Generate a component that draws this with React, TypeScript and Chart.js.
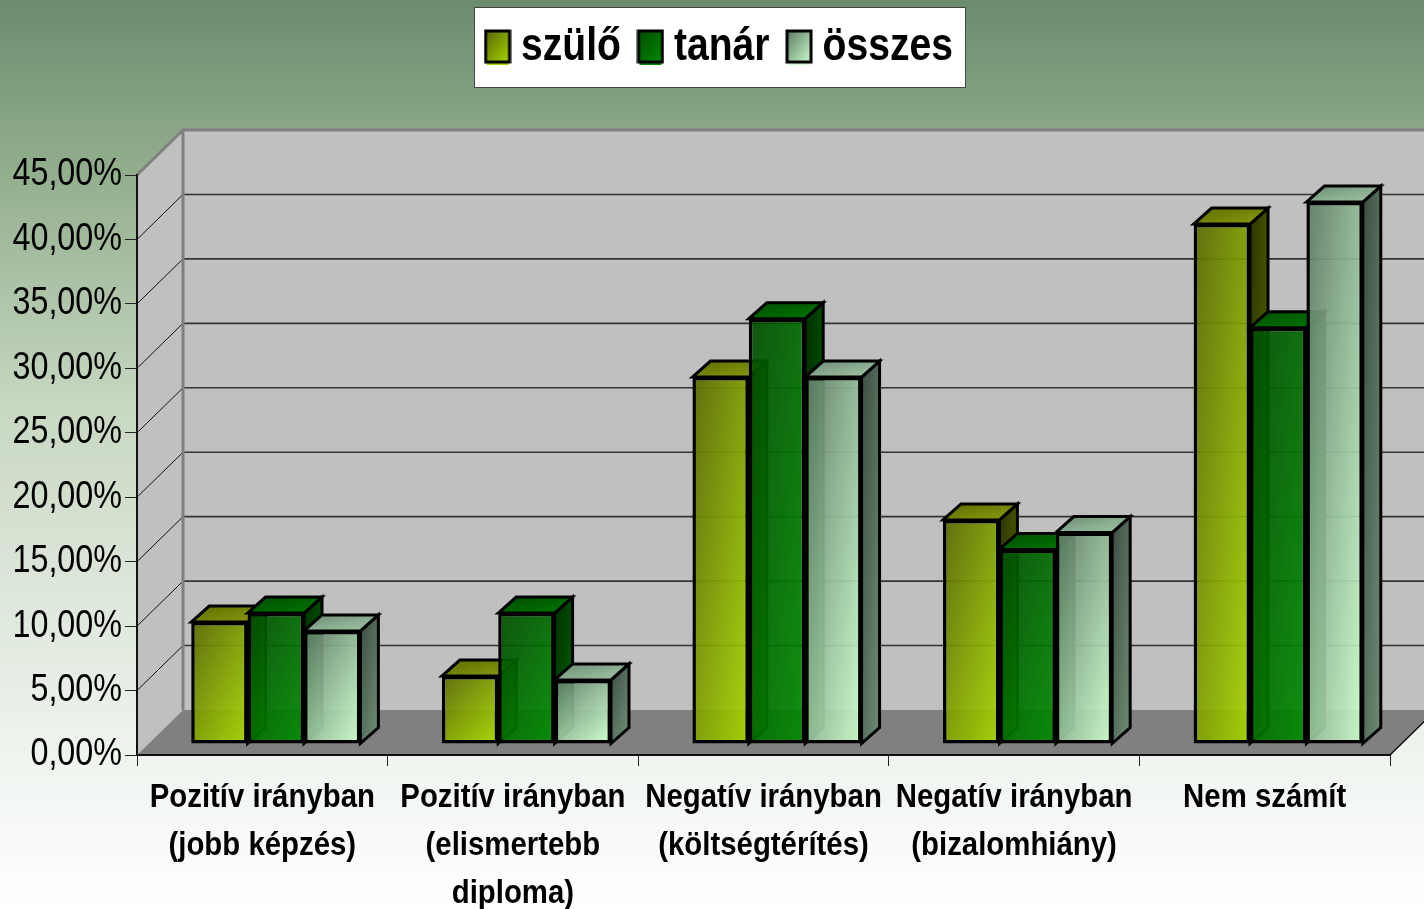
import React, { useEffect, useRef } from "react";
import { Chart, registerables } from "chart.js";

Chart.register(...registerables);

const categories = [
  ["Pozitív irányban", "(jobb képzés)"],
  ["Pozitív irányban", "(elismertebb", "diploma)"],
  ["Negatív irányban", "(költségtérítés)"],
  ["Negatív irányban", "(bizalomhiány)"],
  "Nem számít",
];
const szulo = [9.46, 5.27, 28.47, 17.38, 40.34];
const tanar = [10.16, 10.16, 33.0, 15.1, 32.3];
const osszes = [8.77, 4.97, 28.47, 16.4, 42.05];

const seriesNames = ["szülő", "tanár", "összes"];
const frontColors = [
  ["rgba(88,104,0,0.92)", "rgba(166,214,0,0.92)"],
  ["rgba(0,76,0,0.92)", "rgba(0,140,0,0.92)"],
  ["rgba(92,122,100,0.92)", "rgba(204,255,204,0.92)"],
];
const topColors = [
  ["#5c6c00", "#8c9c10"],
  ["#004c00", "#007800"],
  ["#6c8c74", "#a4c8a8"],
];
const sideColors = [
  ["#2c3400", "#5c6c00"],
  ["#003000", "#006000"],
  ["#3c4c40", "#6c8c74"],
];

const FONT = "'Liberation Sans', Arial, sans-serif";
const DEPTH_X = 46;
const DEPTH_Y = 45;
const BAR_SHIFT_X = 13.5;
const BAR_SHIFT_Y = -11;
const BAR_DEPTH_X = 18;
const BAR_DEPTH_Y = 16;
const GROUP_SHARE = 0.675;

// The reference uses a condensed sans; only regular widths are installed, so text is squeezed.
function narrowText(ctx: any) {
  const fill = ctx.fillText.bind(ctx);
  const measure = ctx.measureText.bind(ctx);
  const factor = () => (ctx.font.includes("33px") ? 0.89 : 0.85);
  ctx.fillText = (t: string, x: number, y: number) => {
    const f = factor();
    ctx.save();
    ctx.translate(x, y);
    ctx.scale(f, 1);
    fill(t, 0, 0);
    ctx.restore();
  };
  ctx.measureText = (t: string) => ({ width: measure(t).width * factor() });
}

function skewGradient(ctx: CanvasRenderingContext2D, x: number, y: number, w: number, h: number, c: string[]) {
  const k = (2 * w * h) / (h * h + w * w || 1);
  const g = ctx.createLinearGradient(x, y, x + h * k, y + w * k);
  g.addColorStop(0, c[0]);
  g.addColorStop(1, c[1]);
  return g;
}

function frontFill(index: number) {
  return (c: any) => {
    const { chart, dataIndex, raw } = c;
    const xs = chart.scales.x;
    const ys = chart.scales.y;
    if (!xs || !ys || typeof raw !== "number") return frontColors[index][1];
    const w = ((xs.width / categories.length) * GROUP_SHARE) / 3;
    const left = xs.getPixelForValue(dataIndex) - 1.5 * w + index * w;
    const top = ys.getPixelForValue(raw);
    return skewGradient(chart.ctx, left, top, w, ys.bottom + BAR_SHIFT_Y - top, frontColors[index]);
  };
}

function poly(ctx: CanvasRenderingContext2D, pts: number[][]) {
  ctx.beginPath();
  pts.forEach((p, i) => (i ? ctx.lineTo(p[0], p[1]) : ctx.moveTo(p[0], p[1])));
  ctx.closePath();
}

const scene3d = {
  id: "scene3d",
  afterLayout(chart: any) {
    const lg = chart.legend;
    const h = lg.bottom - lg.top;
    lg.top = -5;
    lg.bottom = -5 + h;
    lg.left += 26;
    lg.right += 26;
  },
  beforeDraw(chart: any) {
    const { ctx, width, height, chartArea: a, scales } = chart;
    const bg = ctx.createLinearGradient(0, 0, 0, height);
    bg.addColorStop(0, "#6c8c70");
    bg.addColorStop(0.15, "#8aa885");
    bg.addColorStop(0.45, "#c8d8c2");
    bg.addColorStop(0.83, "#eff4ef");
    bg.addColorStop(1, "#ffffff");
    ctx.fillStyle = bg;
    ctx.fillRect(0, 0, width, height);

    const bx = a.left + DEPTH_X;
    const rx = a.right + DEPTH_X;
    const ty = a.top - DEPTH_Y;
    const by = a.bottom - DEPTH_Y;

    // walls
    ctx.fillStyle = "#c0c0c0";
    ctx.fillRect(bx, ty, rx - bx, by - ty);
    poly(ctx, [[a.left, a.top], [bx, ty], [bx, by], [a.left, a.bottom]]);
    ctx.fill();
    // floor
    ctx.fillStyle = "#808080";
    poly(ctx, [[a.left, a.bottom], [bx, by], [rx, by], [a.right, a.bottom]]);
    ctx.fill();

    // gridlines on the wall, from the value scale
    scales.y.ticks.forEach((t: any) => {
      const y = scales.y.getPixelForValue(t.value);
      if (t.value === 0 || t.value === scales.y.max) return;
      ctx.strokeStyle = "#111";
      ctx.lineWidth = 1;
      ctx.beginPath();
      ctx.moveTo(a.left, y);
      ctx.lineTo(bx, y - DEPTH_Y);
      ctx.stroke();
      ctx.strokeStyle = "#333";
      ctx.lineWidth = 1.6;
      ctx.beginPath();
      ctx.moveTo(bx, y - DEPTH_Y);
      ctx.lineTo(rx, y - DEPTH_Y);
      ctx.stroke();
    });

    // wall edges
    ctx.strokeStyle = "#808080";
    ctx.lineWidth = 3;
    ctx.beginPath();
    ctx.moveTo(a.left, a.top);
    ctx.lineTo(bx, ty);
    ctx.lineTo(rx, ty);
    ctx.moveTo(bx, ty);
    ctx.lineTo(bx, by);
    ctx.stroke();
    ctx.strokeStyle = "#111";
    ctx.lineWidth = 1.5;
    ctx.beginPath();
    ctx.moveTo(a.right, a.bottom);
    ctx.lineTo(rx, by);
    ctx.stroke();

    // legend frame
    ctx.fillStyle = "#fff";
    ctx.fillRect(474, 7, 491, 80);
    ctx.strokeStyle = "#444";
    ctx.lineWidth = 1;
    ctx.strokeRect(474.5, 7.5, 491, 80);
  },
  beforeDatasetsDraw(chart: any) {
    const ctx = chart.ctx;
    ctx.save();
    ctx.translate(BAR_SHIFT_X, BAR_SHIFT_Y);
    // left-to-right so that each later bar covers the side of the one before it
    [0, 1, 2].forEach((s) => {
      const meta = chart.getDatasetMeta(s);
      meta.data.forEach((el: any) => {
        const { x, y, base, width } = el.getProps(["x", "y", "base", "width"], true);
        const l = x - width / 2;
        const r = x + width / 2;
        ctx.lineWidth = 3;
        ctx.strokeStyle = "#000";
        ctx.lineJoin = "miter";
        poly(ctx, [[r, y], [r + BAR_DEPTH_X, y - BAR_DEPTH_Y], [r + BAR_DEPTH_X, base - BAR_DEPTH_Y], [r, base]]);
        ctx.fillStyle = skewGradient(ctx, r, y - BAR_DEPTH_Y, BAR_DEPTH_X, base - y, sideColors[s]);
        ctx.fill();
        ctx.stroke();
        poly(ctx, [[l, y], [l + BAR_DEPTH_X, y - BAR_DEPTH_Y], [r + BAR_DEPTH_X, y - BAR_DEPTH_Y], [r, y]]);
        ctx.fillStyle = skewGradient(ctx, l, y - BAR_DEPTH_Y, width + BAR_DEPTH_X, BAR_DEPTH_Y, topColors[s]);
        ctx.fill();
        ctx.stroke();
      });
      meta.controller.draw();
    });
    ctx.restore();
    return false;
  },
};

function legendSwatch(i: number) {
  const c = document.createElement("canvas");
  c.width = 28;
  c.height = 38;
  const g = c.getContext("2d") as CanvasRenderingContext2D;
  const solid = frontColors[i].map((s) => s.replace("0.92", "1"));
  g.fillStyle = solid[1];
  g.fillRect(3, 34, 22, 3);
  g.fillStyle = skewGradient(g, 2, 3, 24, 32, solid);
  g.fillRect(2, 3, 24, 32);
  g.strokeStyle = "#000";
  g.lineWidth = 3;
  g.strokeRect(2, 3, 24, 31);
  return c;
}

export default function App() {
  const ref = useRef<HTMLCanvasElement>(null);
  useEffect(() => {
    const canvas = ref.current as HTMLCanvasElement;
    narrowText(canvas.getContext("2d"));
    const chart = new Chart(canvas, {
      type: "bar",
      data: {
        labels: categories as any,
        datasets: [szulo, tanar, osszes].map((data, i) => ({
          label: seriesNames[i],
          data,
          backgroundColor: frontFill(i),
          borderColor: "#000",
          borderWidth: 3.5,
          borderSkipped: false,
          barPercentage: 1,
          categoryPercentage: GROUP_SHARE,
        })) as any,
      },
      options: {
        animation: false,
        responsive: false,
        layout: { padding: { left: 8, right: 34, top: 90, bottom: 0 } },
        plugins: {
          tooltip: { enabled: false },
          legend: {
            position: "top",
            labels: {
              usePointStyle: true,
              boxWidth: 1,
              boxHeight: 1,
              padding: 29,
              color: "#000",
              font: { family: FONT, size: 46, weight: "bold" },
              generateLabels: () =>
                seriesNames.map((text, i) => ({
                  text,
                  datasetIndex: i,
                  pointStyle: legendSwatch(i),
                  fontColor: "#000",
                })),
            },
          },
        },
        scales: {
          x: {
            grid: { display: true, drawOnChartArea: false, drawTicks: true, tickLength: 11, color: "#222" },
            border: { display: true, color: "#111", width: 2 },
            afterFit: (s: any) => {
              s.height = 154;
            },
            ticks: {
              autoSkip: false,
              maxRotation: 0,
              minRotation: 0,
              padding: 8,
              color: "#000",
              font: { family: FONT, size: 33, weight: "bold", lineHeight: 1.45 },
            },
          },
          y: {
            min: 0,
            max: 45,
            grid: { display: true, drawOnChartArea: false, drawTicks: true, tickLength: 12, color: "#222" },
            border: { display: true, color: "#111", width: 2 },
            afterFit: (s: any) => {
              s.width = 129;
            },
            ticks: {
              stepSize: 5,
              padding: 3,
              color: "#000",
              font: { family: FONT, size: 38 },
              callback: (v: any) => Number(v).toFixed(2).replace(".", ",") + "%",
            },
          },
        },
      },
      plugins: [scene3d as any],
    } as any);
    return () => chart.destroy();
  }, []);
  return (
    <div style={{ position: "absolute", left: 0, top: 0, width: 1424, height: 909, overflow: "hidden" }}>
      <canvas ref={ref} width={1424} height={909} style={{ display: "block" }} />
    </div>
  );
}
